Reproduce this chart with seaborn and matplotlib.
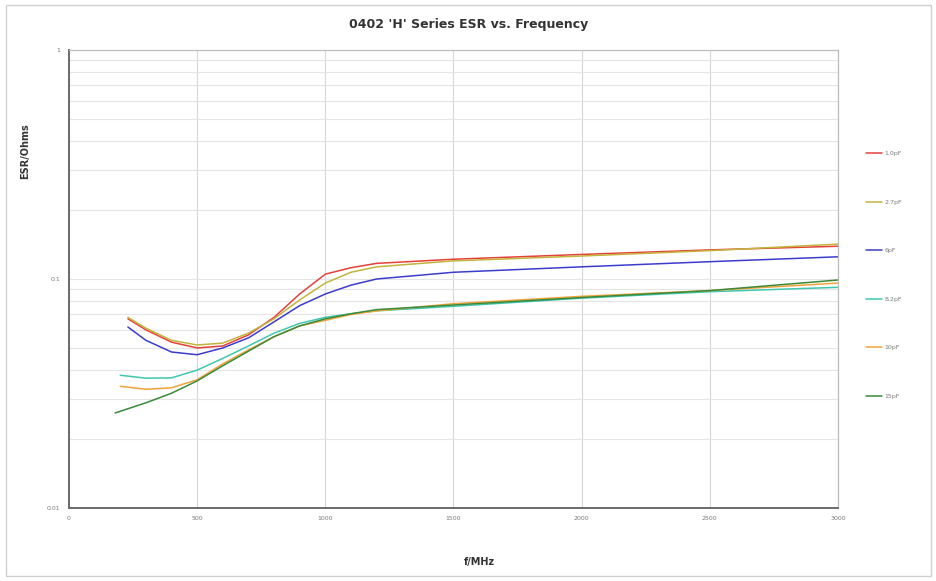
import matplotlib
matplotlib.use("Agg")
import matplotlib.pyplot as plt
import seaborn as sns
import pandas as pd
from matplotlib.patches import Rectangle
from matplotlib.ticker import FixedLocator, LogLocator, NullFormatter

# Series labels and colours
labels = ["1.0pF", "2.7pF", "6pF", "8.2pF", "10pF", "15pF"]
colors = ["#e5403a", "#c2b43c", "#3c3ccc", "#3fc7b0", "#f2a23a", "#3a8a3a"]

# Frequencies (MHz) and ESR (Ohms)
freq_a = [230, 300, 400, 500, 600, 700, 800, 900, 1000, 1100, 1200, 1500, 2000, 2500, 3000]
freq_b = [200, 300, 400, 500, 600, 700, 800, 900, 1000, 1100, 1200, 1500, 2000, 2500, 3000]
freq_c = [180, 300, 400, 500, 600, 700, 800, 900, 1000, 1100, 1200, 1500, 2000, 2500, 3000]

esr_1 = [0.067, 0.060, 0.053, 0.050, 0.051, 0.057, 0.068, 0.086, 0.105, 0.112, 0.117, 0.122, 0.128, 0.134, 0.139]
esr_2 = [0.068, 0.061, 0.054, 0.0515, 0.0525, 0.058, 0.067, 0.081, 0.096, 0.107, 0.113, 0.120, 0.126, 0.133, 0.142]
esr_3 = [0.0617, 0.054, 0.048, 0.0467, 0.050, 0.0553, 0.065, 0.0765, 0.086, 0.094, 0.100, 0.107, 0.113, 0.119, 0.125]
esr_4 = [0.038, 0.0369, 0.037, 0.040, 0.045, 0.051, 0.058, 0.064, 0.068, 0.0705, 0.0726, 0.076, 0.0825, 0.088, 0.092]
esr_5 = [0.034, 0.033, 0.0335, 0.0363, 0.0426, 0.049, 0.056, 0.0624, 0.066, 0.070, 0.0726, 0.078, 0.084, 0.089, 0.096]
esr_6 = [0.026, 0.0288, 0.0317, 0.0359, 0.0418, 0.0484, 0.056, 0.0624, 0.067, 0.0705, 0.0735, 0.077, 0.083, 0.089, 0.099]

x_ticks = [0, 500, 1000, 1500, 2000, 2500, 3000]
y_ticks = [0.01, 0.1, 1]
y_tick_labels = ["0.01", "0.1", "1"]

series = [
    (labels[0], freq_a, esr_1),
    (labels[1], freq_a, esr_2),
    (labels[2], freq_a, esr_3),
    (labels[3], freq_b, esr_4),
    (labels[4], freq_b, esr_5),
    (labels[5], freq_c, esr_6),
]
rows = []
for name, fs, vs in series:
    for f, v in zip(fs, vs):
        rows.append({"Capacitance": name, "f": f, "ESR": v})
df = pd.DataFrame(rows)

sns.set_style("white")
fig = plt.figure(figsize=(9.37, 5.81), dpi=100)
ax = fig.add_axes([0.0736, 0.1256, 0.8207, 0.7884])

sns.lineplot(
    data=df, x="f", y="ESR", hue="Capacitance",
    hue_order=labels, palette=colors, linewidth=1.1, ax=ax
)

ax.set_yscale("log")
ax.set_xlim(0, 3000)
ax.set_ylim(0.01, 1)
ax.xaxis.set_major_locator(FixedLocator(x_ticks))
ax.set_xticklabels([str(t) for t in x_ticks])
ax.yaxis.set_major_locator(FixedLocator(y_ticks))
ax.set_yticklabels(y_tick_labels)
ax.yaxis.set_minor_locator(LogLocator(base=10, subs=range(2, 10)))
ax.yaxis.set_minor_formatter(NullFormatter())
ax.tick_params(axis="both", which="both", labelsize=4.5, colors="#7a7a7a", length=0, pad=6)

ax.grid(True, which="major", axis="x", color="#d6d6d6", linewidth=0.8)
ax.grid(True, which="both", axis="y", color="#e4e4e4", linewidth=0.8)

for side in ["left", "bottom"]:
    ax.spines[side].set_color("#6a6a6a")
    ax.spines[side].set_linewidth(1.4)
for side in ["top", "right"]:
    ax.spines[side].set_color("#bdbdbd")
    ax.spines[side].set_linewidth(0.9)

ax.set_xlabel("")
ax.set_ylabel("")
fig.text(0.512, 0.027, "f/MHz", fontsize=7, fontweight="bold", color="#333333", ha="center")
fig.text(0.027, 0.74, "ESR/Ohms", fontsize=7, fontweight="bold", color="#333333",
         rotation=90, va="center", ha="center")
fig.text(0.5, 0.957, "0402 'H' Series ESR vs. Frequency", fontsize=9, fontweight="bold",
         color="#333333", ha="center", va="center")

leg = ax.legend(
    loc="center left", bbox_to_anchor=(0.918, 0.527), bbox_transform=fig.transFigure,
    frameon=False, fontsize=4.5, labelspacing=6.9, handlelength=2.6, handletextpad=0.4
)
for t in leg.get_texts():
    t.set_color("#7a7a7a")

fig.patches.append(Rectangle((0.006, 0.008), 0.988, 0.984, transform=fig.transFigure,
                             fill=False, edgecolor="#d0d0d0", linewidth=1.0))

fig.savefig("out.png", dpi=100)
